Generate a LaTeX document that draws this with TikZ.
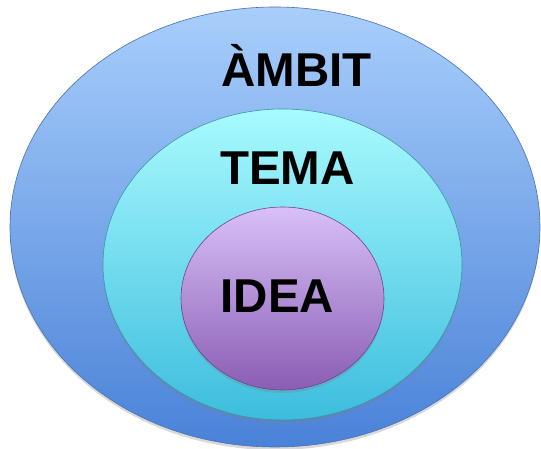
\documentclass[tikz,border=0pt]{standalone}
\usepackage{fontspec}
\setmainfont{Liberation Sans}
\usepackage{tikz}
\usetikzlibrary{shapes.geometric}
\usetikzlibrary{shadows}

\definecolor{ambittop}{HTML}{A8CEFB}
\definecolor{ambitbot}{HTML}{4A82D8}
\definecolor{ambitline}{HTML}{4A70B0}
\definecolor{tematop}{HTML}{A8FAFE}
\definecolor{temabot}{HTML}{3CBDDE}
\definecolor{temaline}{HTML}{3A95A6}
\definecolor{ideatop}{HTML}{D8C0F8}
\definecolor{ideabot}{HTML}{8A5DB4}
\definecolor{idealine}{HTML}{6A4690}

\tikzset{
  bubble/.style={ellipse,inner sep=0pt,line width=0.6pt,
    drop shadow={opacity=0.3,shadow xshift=0pt,shadow yshift=-3pt}},
  wordtext/.style={anchor=base,inner sep=0pt,font=\bfseries\fontsize{47.5}{47.5}\selectfont}
}

\begin{document}
\begin{tikzpicture}[x=1pt,y=1pt]
\useasboundingbox (0,0) rectangle (541,449);
\node[bubble,draw=ambitline,top color=ambittop,bottom color=ambitbot,
  minimum width=530pt,minimum height=440pt] (ambit) at (275,222) {};
\node[bubble,draw=temaline,top color=tematop,bottom color=temabot,
  minimum width=359pt,minimum height=311pt] (tema) at (282.5,184.5) {};
\node[bubble,draw=idealine,top color=ideatop,bottom color=ideabot,
  minimum width=203pt,minimum height=183pt] (idea) at (282.5,150.5) {};
\node[wordtext] (ambittext) at (296.5,362) {ÀMBIT};
\node[wordtext] (tematext) at (287.5,264) {TEMA};
\node[wordtext] (ideatext) at (277.5,136) {IDEA};
\end{tikzpicture}
\end{document}
